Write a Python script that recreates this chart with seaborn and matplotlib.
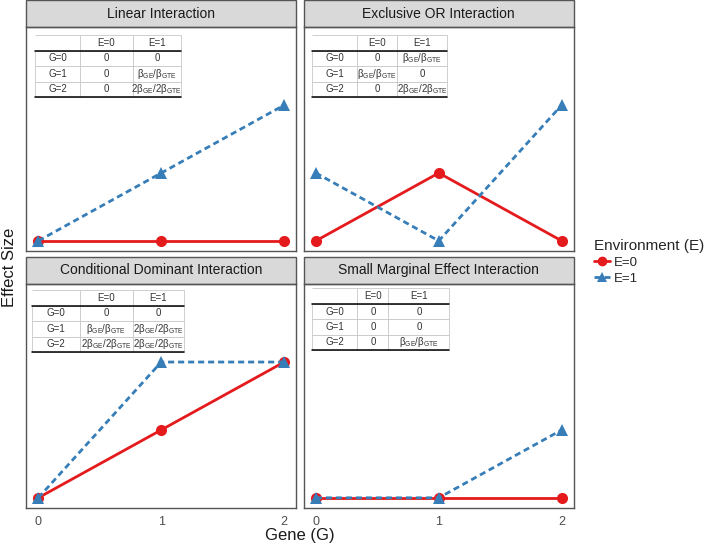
import pandas as pd
import matplotlib
matplotlib.use('Agg')
import matplotlib.pyplot as plt
from matplotlib.patches import Rectangle
from matplotlib.lines import Line2D
import seaborn as sns

# data (effect size in arbitrary units)
genes = [0, 1, 2]
panels = ['Linear Interaction', 'Exclusive OR Interaction',
          'Conditional Dominant Interaction', 'Small Marginal Effect Interaction']
e0_values = [[0, 0, 0], [0, 1, 0], [0, 1, 2], [0, 0, 0]]
e1_values = [[0, 1, 2], [1, 0, 2], [0, 2, 2], [0, 0, 1]]

b1 = r'β$_{\mathrm{GE}}$/β$_{\mathrm{GTE}}$'
b2 = r'2β$_{\mathrm{GE}}$/2β$_{\mathrm{GTE}}$'
table_e0 = [['0', '0', '0'], ['0', b1, '0'], ['0', b1, b2], ['0', '0', '0']]
table_e1 = [['0', b1, b2], [b1, '0', b2], ['0', b2, b2], ['0', '0', b1]]
row_labels = ['G=0', 'G=1', 'G=2']

# table placement (axes fraction) and column widths per panel
table_boxes = [[0.033, 0.6875, 0.54, 0.2765], [0.033, 0.6875, 0.498, 0.2765],
               [0.022, 0.696, 0.562, 0.277], [0.033, 0.705, 0.506, 0.275]]
table_cols = [[45, 52, 48], [45, 40, 50], [48, 52, 51], [45, 31, 61]]

red = '#E41A1C'
blue = '#377EB8'

rows = []
for p, name in enumerate(panels):
    for g, v0, v1 in zip(genes, e0_values[p], e1_values[p]):
        rows.append({'panel': name, 'G': g, 'E': 'E=0', 'effect': v0})
        rows.append({'panel': name, 'G': g, 'E': 'E=1', 'effect': v1})
df = pd.DataFrame(rows)

sns.set_style('white')
plt.rcParams['font.family'] = ['Liberation Sans', 'DejaVu Sans']
plt.rcParams['mathtext.fontset'] = 'custom'
plt.rcParams['mathtext.rm'] = 'Liberation Sans'
plt.rcParams['mathtext.it'] = 'Liberation Sans:italic'

fig, axes = plt.subplots(2, 2, figsize=(7.09, 5.49), dpi=100, sharex=True, sharey=True)
fig.subplots_adjust(left=0.0367, right=0.8096, top=0.9508, bottom=0.0747,
                    hspace=0.147, wspace=0.026)

for p, ax in enumerate(axes.flat):
    sub = df[df['panel'] == panels[p]]
    sns.lineplot(data=sub, x='G', y='effect', hue='E', style='E',
                 hue_order=['E=0', 'E=1'],
                 palette={'E=0': red, 'E=1': blue},
                 markers={'E=0': 'o', 'E=1': '^'},
                 dashes={'E=0': '', 'E=1': (2.2, 1.4)},
                 markersize=8, markeredgewidth=0, linewidth=2.0,
                 legend=False, ax=ax)
    ax.set_xlim(-0.1, 2.1)
    ax.set_ylim(-0.15, 3.15)
    ax.set_xticks(genes)
    ax.set_yticks([0, 1, 2, 3])
    ax.set_yticklabels([])
    ax.set_xlabel('')
    ax.set_ylabel('')
    for s in ax.spines.values():
        s.set_color('#555555')
        s.set_linewidth(1.0)
    ax.tick_params(axis='both', colors='#555555', labelcolor='#4D4D4D',
                   labelsize=9, length=4, width=0.8, pad=1.5)
    if p < 2:
        ax.tick_params(axis='x', length=0)
    if p % 2 == 1:
        ax.tick_params(axis='y', length=0)

    # facet strip
    sh = 27 / 224
    ax.add_patch(Rectangle((0, 1), 1, sh, transform=ax.transAxes, clip_on=False,
                           facecolor='#D9D9D9', edgecolor='#555555', lw=1.0))
    ax.text(0.5, 1 + sh / 2, panels[p], transform=ax.transAxes, ha='center',
            va='center', fontsize=10, color='#1A1A1A')

    # inset table
    cells = [['', 'E=0', 'E=1']]
    for r in range(3):
        cells.append([row_labels[r], table_e0[p][r], table_e1[p][r]])
    x0, y0, w, h = table_boxes[p]
    cw = table_cols[p]
    cw = [c / sum(cw) * w for c in cw]
    tb = ax.table(cellText=cells, cellLoc='center', colWidths=cw,
                  bbox=[x0, y0, w, h])
    tb.auto_set_font_size(False)
    tb.set_fontsize(7)
    for (r, c), cell in tb.get_celld().items():
        cell.set_edgecolor('#C8C8C8')
        cell.set_linewidth(0.6)
        cell.get_text().set_color('#333333')
        if r == 0 and c == 0:
            cell.visible_edges = 'T'
    ax.plot([x0, x0 + w], [y0 + h * 0.75] * 2, transform=ax.transAxes,
            color='black', lw=1.1, clip_on=False)
    ax.plot([x0, x0 + w], [y0, y0], transform=ax.transAxes,
            color='black', lw=1.1, clip_on=False)

fig.text(0.013, 0.513, 'Effect Size', rotation=90, ha='center', va='center',
         fontsize=12, color='#1A1A1A')
fig.text(0.4231, 0.025, 'Gene (G)', ha='center', va='center',
         fontsize=12, color='#1A1A1A')

handles = [Line2D([], [], color=red, marker='o', markersize=7, lw=2, markeredgewidth=0),
           Line2D([], [], color=blue, marker='^', markersize=7, lw=2,
                  ls=(0, (2.2, 1.4)), markeredgewidth=0)]
leg = fig.legend(handles, ['E=0', 'E=1'], title='Environment (E)', loc='upper left',
                 bbox_to_anchor=(0.830, 0.575), frameon=False, fontsize=9.5,
                 title_fontsize=11, handlelength=1.2, handletextpad=0.3,
                 labelspacing=0.3, borderaxespad=0, alignment='left')

fig.savefig('out.png', dpi=100)
